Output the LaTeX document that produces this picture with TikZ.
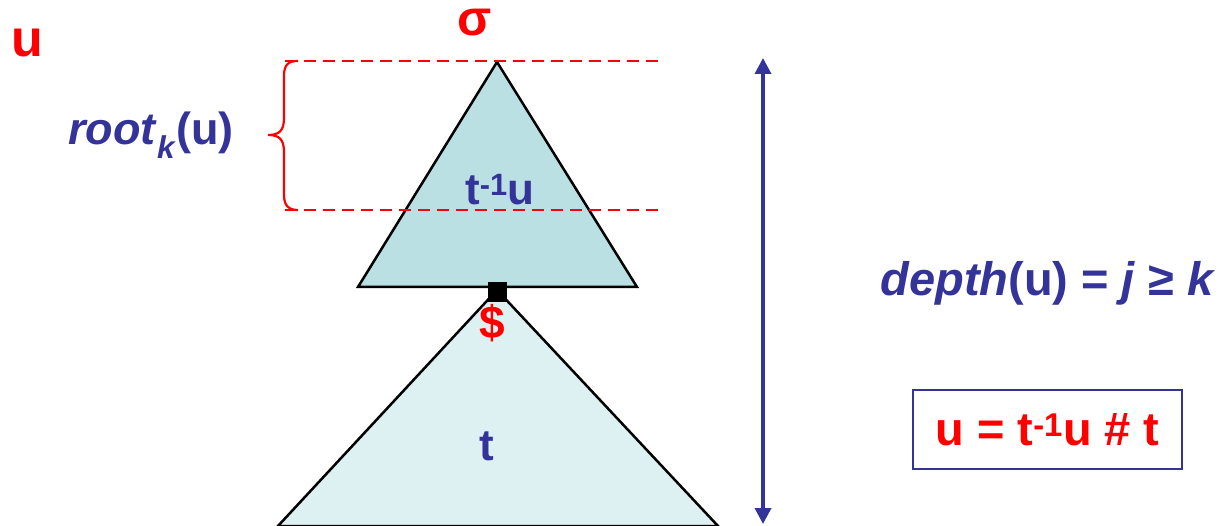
\documentclass[tikz,border=0pt]{standalone}
\usepackage{fontspec}
\setmainfont{Liberation Sans}
\usetikzlibrary{arrows.meta}
\definecolor{dblue}{HTML}{333399}
\definecolor{dred}{HTML}{FF0000}
\definecolor{tri}{HTML}{BBE0E3}
\definecolor{tril}{HTML}{DDF0F2}
\tikzset{
  lbl/.style={inner sep=0pt, anchor=center, font=\bfseries\fontsize{#1}{#1}\selectfont},
  redlbl/.style={lbl=#1, text=dred},
  bluelbl/.style={lbl=#1, text=dblue},
  tribox/.style={draw=black, line width=2.5pt, line join=miter},
  dashline/.style={draw=dred, line width=2.2pt, dash pattern=on 12pt off 7pt},
  bracestyle/.style={draw=dred, line width=2.2pt},
  deptharrow/.style={draw=dblue, line width=3.5pt, {Triangle[length=16pt,width=16pt]}-{Triangle[length=16pt,width=16pt]}},
  eqbox/.style={draw=dblue, line width=2.5pt, minimum width=269pt, minimum height=79pt, inner sep=0pt}
}
\begin{document}
\begin{tikzpicture}[x=1pt,y=-1pt]
\useasboundingbox (0,0) rectangle (1222,526);
\coordinate (a1) at (497,62);
\coordinate (l1) at (358,287);
\coordinate (r1) at (637,287);
\coordinate (a2) at (497,290);
\coordinate (l2) at (278,526);
\coordinate (r2) at (718,526);
\filldraw[tribox, fill=tril] (a2) -- (l2) -- (r2) -- cycle;
\filldraw[tribox, fill=tri] (a1) -- (l1) -- (r1) -- cycle;
\node[fill=black, minimum size=19pt, inner sep=0pt] (sq) at (497.5,292) {};
\coordinate (d1l) at (285,61);
\coordinate (d1r) at (658,61);
\coordinate (d2l) at (285,210);
\coordinate (d2r) at (658,210);
\draw[dashline] (d1l) -- (d1r);
\draw[dashline] (d2l) -- (d2r);
\coordinate (bt) at (298,61);
\coordinate (bm) at (268,135);
\coordinate (bb) at (298,210);
\draw[bracestyle] (bt) .. controls (289,61) and (284,64) .. (284,76)
  -- (284,118) .. controls (284,131) and (279,135) .. (bm)
  .. controls (279,135) and (284,139) .. (284,152)
  -- (284,195) .. controls (284,206) and (289,210) .. (bb);
\node[redlbl=52] (u) at (27,43) {u};
\node[redlbl=50] (sigma) at (475,23) {σ};
\node[bluelbl=45, anchor=east] (root) at (234,135) {\textit{root}\textsubscript{\textit{k}}(u)};
\node[bluelbl=44] (tu) at (500,190) {t\textsuperscript{-1}u};
\node[redlbl=46] (dollar) at (492,323) {\$};
\node[bluelbl=44] (t) at (487,446) {t};
\coordinate (at) at (763,58);
\coordinate (ab) at (763,524);
\draw[deptharrow] (at) -- (ab);
\node[bluelbl=47, anchor=east] (depth) at (1216,283) {\textit{depth}(u) = \textit{j} ≥ \textit{k}};
\node[eqbox] (box) at (1047.5,429.5) {};
\node[redlbl=47] (eq) at (box.center) {u = t\textsuperscript{-1}u \# t};
\end{tikzpicture}
\end{document}
